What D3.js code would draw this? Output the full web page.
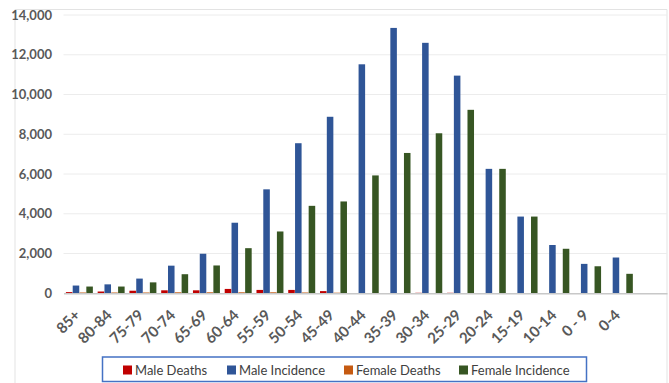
<!DOCTYPE html>
<html>
<head>
<meta charset="utf-8">
<script src="https://cdn.jsdelivr.net/npm/d3@7"></script>
<style>
  html, body { margin: 0; padding: 0; background: #fff; }
  svg { display: block; font-family: Lato, "Open Sans", "Liberation Sans", sans-serif; }
</style>
</head>
<body>
<svg id="chart" width="669" height="383"></svg>
<script>
// ---- data ----
const categories = ["85+", "80-84", "75-79", "70-74", "65-69", "60-64", "55-59", "50-54", "45-49",
  "40-44", "35-39", "30-34", "25-29", "20-24", "15-19", "10-14", "0 - 9", "0-4", ""];
const maleDeaths      = [60, 90, 130, 150, 150, 220, 170, 170, 110, 10, 5, 25, 25, 0, 0, 0, 0, 0, null];
const maleIncidence   = [390, 450, 740, 1390, 1990, 3550, 5230, 7550, 8880, 11520, 13350, 12600, 10950, 6260, 3860, 2430, 1480, 1800, null];
const femaleDeaths    = [40, 40, 40, 50, 50, 50, 50, 40, 30, 0, 0, 0, 0, 0, 0, 0, 0, 0, null];
const femaleIncidence = [340, 340, 550, 960, 1400, 2270, 3110, 4400, 4620, 5930, 7060, 8050, 9230, 6260, 3860, 2240, 1360, 980, null];
const yTicks = [0, 2000, 4000, 6000, 8000, 10000, 12000, 14000];

const seriesNames  = ["Male Deaths", "Male Incidence", "Female Deaths", "Female Incidence"];
const seriesValues = [maleDeaths, maleIncidence, femaleDeaths, femaleIncidence];
const seriesColors = ["#C00000", "#2F5597", "#C55A11", "#375623"];

// ---- layout ----
const svg = d3.select("#chart");
const plot = { left: 63.5, right: 667, top: 15, bottom: 293.3 };

// chart border
svg.append("path")
  .attr("d", `M15,390 L15,9.5 L667,9.5 L667,390`)
  .attr("fill", "none").attr("stroke", "#e3e3e3").attr("stroke-width", 1);

const x0 = d3.scaleBand().domain(categories).range([plot.left, plot.right]).padding(0);
const x1 = d3.scaleBand().domain(seriesNames)
  .range([2.4, x0.bandwidth() - 2.4]).paddingInner(0.04);
const y = d3.scaleLinear().domain([0, 14000]).range([plot.bottom, plot.top]);

// gridlines
svg.append("g").selectAll("line").data(yTicks.filter(d => d > 0)).join("line")
  .attr("x1", plot.left).attr("x2", plot.right)
  .attr("y1", d => y(d)).attr("y2", d => y(d))
  .attr("stroke", "#ececec").attr("stroke-width", 1);

// y axis labels
const yAxis = d3.axisLeft(y).tickValues(yTicks).tickFormat(d3.format(",")).tickSize(0).tickPadding(0);
svg.append("g").attr("transform", "translate(52,0)").call(yAxis)
  .call(g => g.select(".domain").remove())
  .selectAll("text")
  .attr("font-family", "Lato, 'Open Sans', sans-serif")
  .attr("font-size", 13).attr("font-weight", 700).attr("fill", "#595959");

// bars
const rows = categories.map((c, i) => ({ cat: c, vals: seriesValues.map((s, k) => ({ key: seriesNames[k], v: s[i], color: seriesColors[k] })) }));
svg.append("g").selectAll("g").data(rows).join("g")
  .attr("transform", d => `translate(${x0(d.cat)},0)`)
  .selectAll("rect").data(d => d.vals.filter(e => e.v != null && e.v > 0)).join("rect")
  .attr("x", d => x1(d.key))
  .attr("width", x1.bandwidth())
  .attr("y", d => y(d.v))
  .attr("height", d => y(0) - y(d.v))
  .attr("fill", d => d.color);

// x axis
const xAxis = d3.axisBottom(x0).tickSize(0).tickPadding(0);
const gx = svg.append("g").attr("transform", `translate(0,${plot.bottom})`).call(xAxis);
gx.select(".domain").attr("stroke", "#c8c8c8").attr("stroke-width", 1.5);
gx.selectAll("text")
  .attr("font-family", "Lato, 'Open Sans', sans-serif")
  .attr("font-size", 15).attr("font-weight", 700).attr("fill", "#595959")
  .attr("text-anchor", "end")
  .attr("dy", null)
  .attr("y", null)
  .attr("transform", "translate(-1,20) rotate(-45)")
  .attr("dominant-baseline", "middle");

// legend
const legend = svg.append("g");
legend.append("rect").attr("x", 102.5).attr("y", 357).attr("width", 484).attr("height", 24.5)
  .attr("fill", "#fff").attr("stroke", "#4472C4").attr("stroke-width", 1.5);
const legendX = [123, 227, 344, 459];
const items = legend.selectAll("g.item").data(seriesNames).join("g")
  .attr("class", "item")
  .attr("transform", (d, i) => `translate(${legendX[i]},370)`);
items.append("rect").attr("x", 0).attr("y", -4.5).attr("width", 9).attr("height", 9)
  .attr("fill", (d, i) => seriesColors[i]);
items.append("text").attr("x", 12).attr("y", 0).attr("dy", "0.35em")
  .attr("font-size", 13).attr("fill", "#404040")
  .text(d => d);
</script>
</body>
</html>
